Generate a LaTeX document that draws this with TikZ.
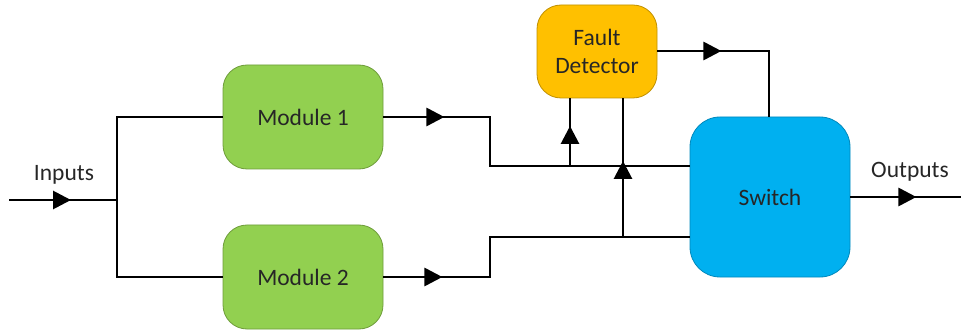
\documentclass[tikz,border=0pt]{standalone}
\usepackage{fontspec}
\setmainfont{Carlito}
\usetikzlibrary{arrows.meta,decorations.markings,calc}
\definecolor{modgreen}{HTML}{92D050}
\definecolor{modgreenB}{HTML}{6E9C3A}
\definecolor{fdorange}{HTML}{FFC000}
\definecolor{fdorangeB}{HTML}{C09000}
\definecolor{swblue}{HTML}{00B0F0}
\definecolor{swblueB}{HTML}{0088BB}
\definecolor{txt}{HTML}{262626}
\begin{document}
\begin{tikzpicture}[x=1pt,y=-1pt,
  box/.style={rectangle, rounded corners=24pt, line width=0.8pt, inner sep=0pt,
    font=\fontsize{23.5}{28}\selectfont, text=txt, align=center},
  modbox/.style={box, fill=modgreen, draw=modgreenB, minimum width=160pt, minimum height=104pt},
  wire/.style={line width=2.9pt, line join=miter},
  lbl/.style={font=\fontsize{23.5}{28}\selectfont, text=txt, inner sep=0pt},
  midarrow/.style={postaction={decorate}, decoration={markings,
    mark=at position #1 with {\arrow{Triangle[length=18pt,width=18pt]}}}}
]
\useasboundingbox (0,0) rectangle (961,331);

% nodes
\node[modbox] (m1) at (303,117) {Module 1};
\node[modbox] (m2) at (303,277) {Module 2};
\node[box, fill=fdorange, draw=fdorangeB, minimum width=120pt, minimum height=93pt] (fd) at (597,51.5) {Fault\\Detector};
\node[box, rounded corners=30pt, fill=swblue, draw=swblueB, minimum width=160pt, minimum height=160pt] (sw) at (770,197) {Switch};

\coordinate (in0) at (9,200);
\coordinate (jin) at (117,200);
\coordinate (out1) at (961,197);
\coordinate (y1) at (490,166);
\coordinate (y2) at (490,237);
\coordinate (b1) at (570,166);
\coordinate (b2) at (623,237);
\coordinate (cf) at (769,51);

\node[lbl] (inl) at (64,175) {Inputs};
\node[lbl] (outl) at (910,172) {Outputs};

% wires
\draw[wire, midarrow=62pt] (in0) -- (jin);
\draw[wire] (m1.west) -| (jin) |- (m2.west);
\draw[wire, midarrow=61pt] (m1.east) -| (y1) -- (sw.west |- y1);
\draw[wire, midarrow=59pt] (m2.east) -| (y2) -- (sw.west |- y2);
\draw[wire, midarrow=40pt] (b1) -- (b1 |- fd.south);
\draw[wire, midarrow=76pt] (b2) -- (b2 |- fd.south);
\draw[wire, midarrow=64pt] (fd.east |- cf) -| (cf |- sw.north);
\draw[wire, midarrow=66pt] (sw.east) -- (out1);
\end{tikzpicture}
\end{document}
